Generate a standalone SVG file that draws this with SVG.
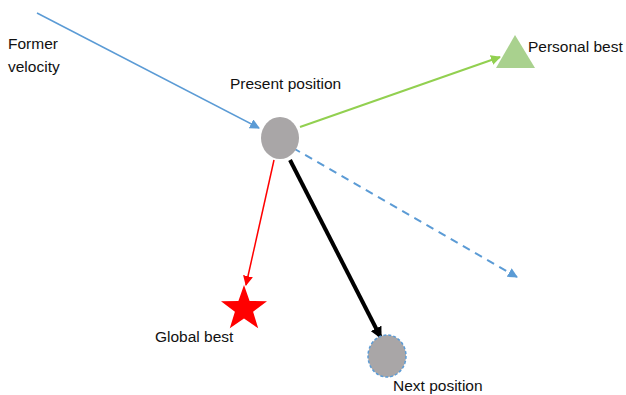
<svg xmlns="http://www.w3.org/2000/svg" width="626" height="395" viewBox="0 0 626 395">
<style>
text{font-family:"Liberation Sans",Arial,sans-serif;font-size:15.5px;fill:#111}
.node{fill:#a9a6a7}
</style>
<defs>
<marker id="ab" viewBox="0 0 10 10" refX="9" refY="5" markerWidth="10" markerHeight="10" markerUnits="userSpaceOnUse" orient="auto"><path d="M0,0L10,5L0,10z" fill="#5b9bd5"/></marker>
<marker id="ag" viewBox="0 0 10 10" refX="9" refY="5" markerWidth="10" markerHeight="10" markerUnits="userSpaceOnUse" orient="auto"><path d="M0,0L10,5L0,10z" fill="#92d050"/></marker>
<marker id="ar" viewBox="0 0 10 10" refX="9" refY="5" markerWidth="10" markerHeight="10" markerUnits="userSpaceOnUse" orient="auto"><path d="M0,0L10,5L0,10z" fill="#ff0000"/></marker>
<marker id="ak" viewBox="0 0 10 10" refX="9" refY="5" markerWidth="12" markerHeight="12" markerUnits="userSpaceOnUse" orient="auto"><path d="M0,0L10,5L0,10z" fill="#000"/></marker>
</defs>
<g id="connectors">
<line x1="37" y1="13" x2="259" y2="128" stroke="#5b9bd5" stroke-width="1.5" marker-end="url(#ab)"/>
<line x1="300" y1="127" x2="500" y2="57" stroke="#92d050" stroke-width="2" marker-end="url(#ag)"/>
<line x1="293" y1="148" x2="517" y2="277" stroke="#5b9bd5" stroke-width="2" stroke-dasharray="8,6" marker-end="url(#ab)"/>
<line x1="274" y1="160" x2="246" y2="285" stroke="#ff0000" stroke-width="1.5" marker-end="url(#ar)"/>
<line x1="290" y1="160" x2="381" y2="338" stroke="#000" stroke-width="4" marker-end="url(#ak)"/>
</g>
<g id="former-velocity">
<text x="8" y="49">Former</text>
<text x="8" y="72">velocity</text>
</g>
<g id="present-position">
<ellipse class="node" cx="280" cy="138" rx="19" ry="21"/>
<text x="230" y="89">Present  position</text>
</g>
<g id="personal-best">
<polygon points="515,35 535,68 496,68" fill="#a9d18e"/>
<text x="528" y="52">Personal best</text>
</g>
<g id="global-best">
<polygon points="244,285 249.6,301 267,301.3 253.1,311.8 258.2,328.3 244,318.5 229.8,328.3 234.9,311.8 221,301.3 238.4,301" fill="#ff0000"/>
<text x="155" y="342">Global best</text>
</g>
<g id="next-position">
<ellipse class="node" cx="387" cy="356" rx="19" ry="21" stroke="#5b9bd5" stroke-width="1.5" stroke-dasharray="3,2"/>
<text x="393" y="391">Next position</text>
</g>
</svg>
